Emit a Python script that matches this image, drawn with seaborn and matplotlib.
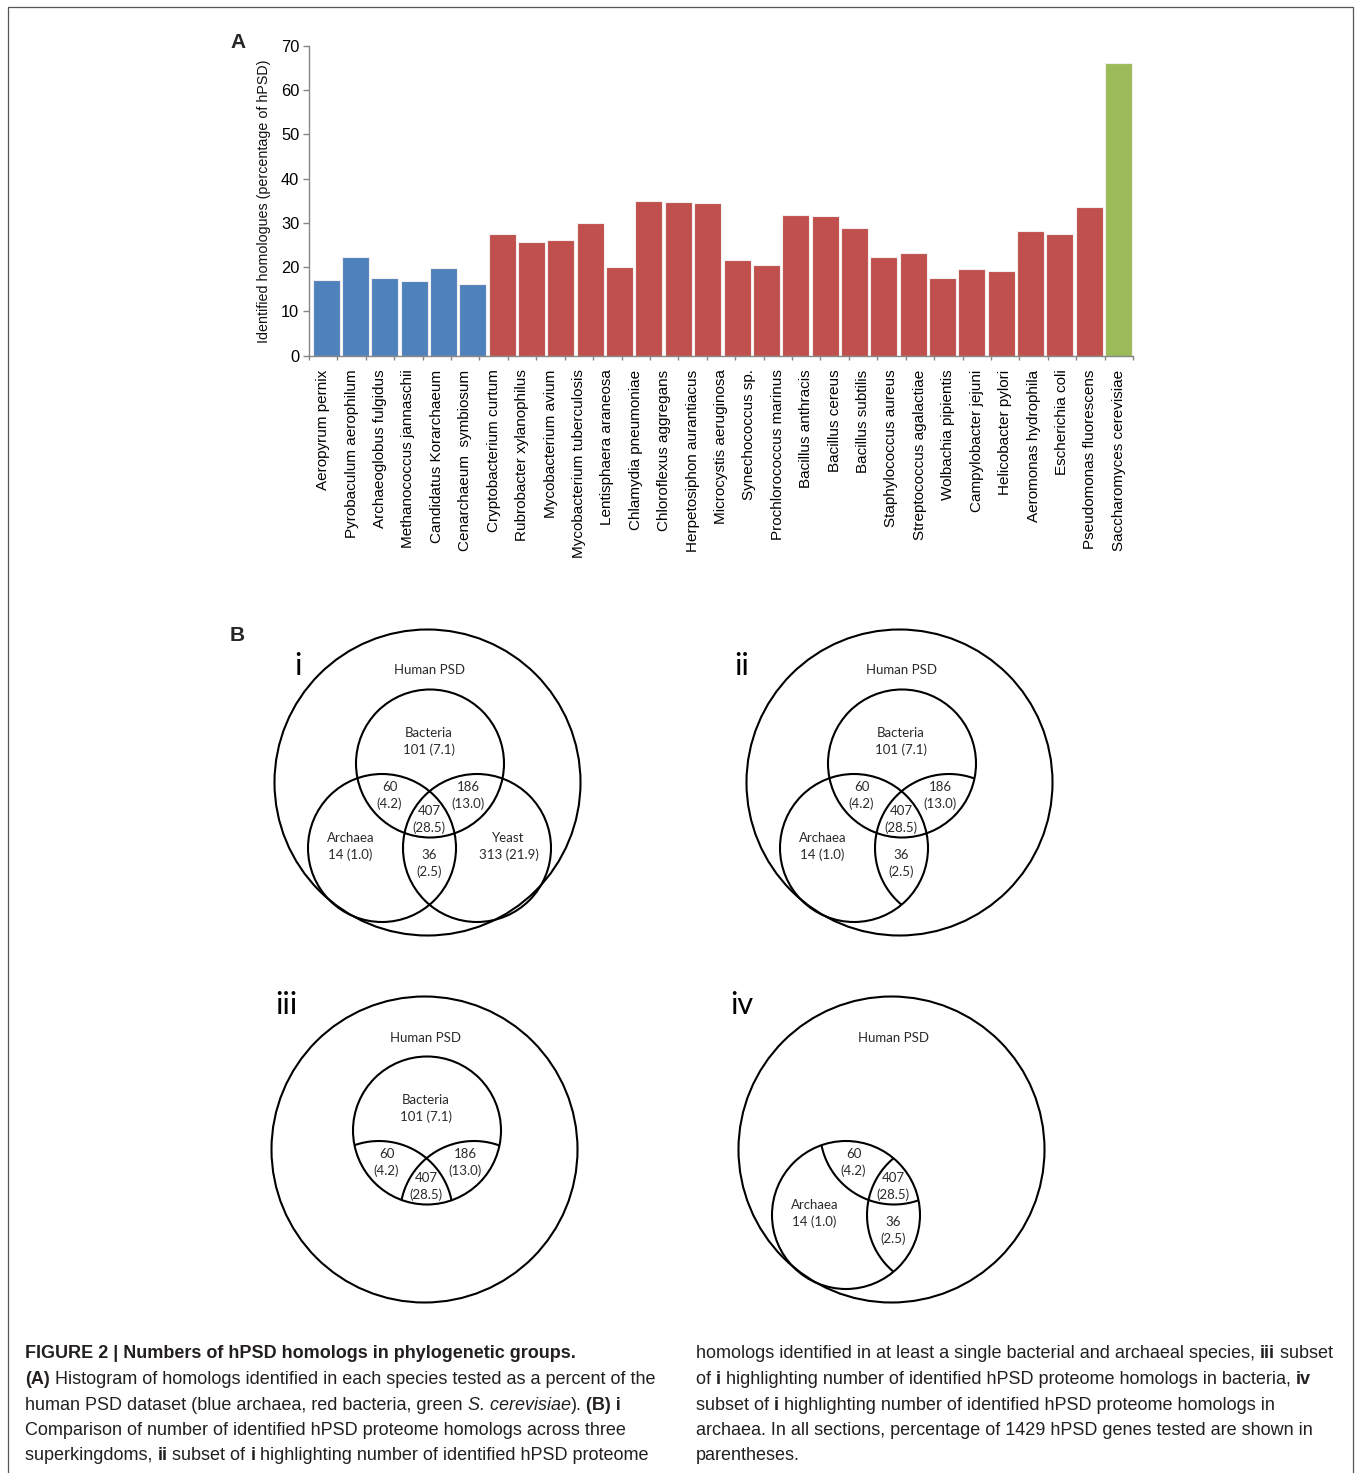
import numpy as np
import pandas as pd
import matplotlib
matplotlib.use("Agg")
import matplotlib.pyplot as plt
import seaborn as sns
from matplotlib import font_manager
from matplotlib.lines import Line2D
from matplotlib.patches import Circle

# ---------------------------------------------------------------- data
species = [
    "Aeropyrum pernix", "Pyrobaculum aerophilum", "Archaeoglobus fulgidus",
    "Methanococcus jannaschii", "Candidatus Korarchaeum", "Cenarchaeum  symbiosum",
    "Cryptobacterium curtum", "Rubrobacter xylanophilus", "Mycobacterium avium",
    "Mycobacterium tuberculosis", "Lentisphaera araneosa", "Chlamydia pneumoniae",
    "Chloroflexus aggregans", "Herpetosiphon aurantiacus", "Microcystis aeruginosa",
    "Synechococcus sp.", "Prochlorococcus marinus", "Bacillus anthracis",
    "Bacillus cereus", "Bacillus subtilis", "Staphylococcus aureus",
    "Streptococcus agalactiae", "Wolbachia pipientis", "Campylobacter jejuni",
    "Helicobacter pylori", "Aeromonas hydrophila", "Escherichia coli",
    "Pseudomonas fluorescens", "Saccharomyces cerevisiae",
]

bar_values = [
    17.1, 22.3, 17.6, 16.8, 19.8, 16.1,
    27.4, 25.8, 26.1, 30.1, 20.0, 35.0, 34.8, 34.5,
    21.6, 20.5, 31.9, 31.6, 28.9, 22.4, 23.1, 17.6, 19.7, 19.2, 28.2, 27.4, 33.7,
    66.1,
]
bar_groups = ["Archaea"] * 6 + ["Bacteria"] * 21 + ["Yeast"]
group_colors = {"Archaea": "#4F81BD", "Bacteria": "#C0504D", "Yeast": "#9BBB59"}
y_ticks = [0, 10, 20, 30, 40, 50, 60, 70]
y_label = "Identified homologues (percentage of hPSD)"

# Venn regions: key -> (name line, count, percent of 1429 hPSD genes)
venn_regions = {
    "B": ("Bacteria", 101, 7.1),
    "A": ("Archaea", 14, 1.0),
    "Y": ("Yeast", 313, 21.9),
    "BA": (None, 60, 4.2),
    "BY": (None, 186, 13.0),
    "AY": (None, 36, 2.5),
    "BAY": (None, 407, 28.5),
}
venn_outer_label = "Human PSD"

caption_left = [
    [("FIGURE 2 | Numbers of hPSD homologs in phylogenetic groups.", "b")],
    [("(A)", "b"), (" Histogram of homologs identified in each species tested as a percent of the", "r")],
    [("human PSD dataset (blue archaea, red bacteria, green ", "r"), ("S. cerevisiae", "i"),
     (").", "r"), (" (B) i", "b")],
    [("Comparison of number of identified hPSD proteome homologs across three", "r")],
    [("superkingdoms, ", "r"), ("ii", "b"), (" subset of ", "r"), ("i", "b"),
     (" highlighting number of identified hPSD proteome", "r")],
]
caption_right = [
    [("homologs identified in at least a single bacterial and archaeal species, ", "r"),
     ("iii", "b"), (" subset", "r")],
    [("of ", "r"), ("i", "b"), (" highlighting number of identified hPSD proteome homologs in bacteria, ", "r"),
     ("iv", "b")],
    [("subset of ", "r"), ("i", "b"), (" highlighting number of identified hPSD proteome homologs in", "r")],
    [("archaea. In all sections, percentage of 1429 hPSD genes tested are shown in", "r")],
    [("parentheses.", "r")],
]

# ---------------------------------------------------------------- style
sns.set_theme(style="white")
plt.rcParams["font.family"] = ["Liberation Sans", "DejaVu Sans"]


def has_font(name):
    try:
        font_manager.findfont(font_manager.FontProperties(family=name),
                              fallback_to_default=False)
        return True
    except Exception:
        return False


cap_family = "Liberation Sans Narrow" if has_font("Liberation Sans Narrow") else "Liberation Sans"
venn_family = "Lato" if has_font("Lato") else "DejaVu Sans"

W, H = 1356, 1473
fig = plt.figure(figsize=(W / 100, H / 100), dpi=100)
fig.patch.set_facecolor("white")
renderer = fig.canvas.get_renderer()


def px_box(left, top, right, bottom):
    return [left / W, 1 - bottom / H, (right - left) / W, (bottom - top) / H]


# frame around the figure area (open at the bottom edge)
fig.add_artist(Line2D([8 / W, 8 / W, 1353 / W, 1353 / W],
                      [-0.01, 1 - 7 / H, 1 - 7 / H, -0.01],
                      transform=fig.transFigure, color="#555555", lw=0.9))

# ---------------------------------------------------------------- panel A
axis_gray = "#868686"
df = pd.DataFrame({"bar": list(range(len(bar_values))), "value": bar_values, "group": bar_groups})

ax = fig.add_axes(px_box(309, 46, 1133, 355.7))
sns.barplot(data=df, x="bar", y="value", hue="group", palette=group_colors,
            order=list(range(len(bar_values))), dodge=False, width=0.92, saturation=1,
            edgecolor="#f4eeee", linewidth=0.8, legend=False, ax=ax)
ax.set_xlim(-0.586, len(bar_values) - 0.506)
ax.set_ylim(0, 70)
ax.set_yticks(y_ticks)
ax.set_yticklabels([str(v) for v in y_ticks], fontsize=11.8, color="black")
ax.set_xticks([])
ax.set_xlabel("")
ax.set_ylabel(y_label, fontsize=10.3, labelpad=7, color="#111111")
for side in ("top", "right"):
    ax.spines[side].set_visible(False)
for side in ("left", "bottom"):
    ax.spines[side].set_color(axis_gray)
    ax.spines[side].set_linewidth(1.0)
ax.tick_params(axis="y", which="major", direction="out", length=4, width=1,
               color=axis_gray, pad=3, left=True)
ax.set_facecolor("none")

# species names on their own category axis along the bottom
lab = ax.twiny()
lab.set_xlim(-0.5, len(species) - 0.5)
lab.xaxis.set_ticks_position("bottom")
lab.xaxis.set_label_position("bottom")
lab.set_xticks(range(len(species)))
lab.set_xticklabels(species, rotation=90, fontsize=11, color="black")
lab.set_xticks(np.arange(-0.5, len(species)), minor=True)
lab.tick_params(axis="x", which="major", length=0, pad=10)
lab.tick_params(axis="x", which="minor", direction="out", length=3, width=1, color=axis_gray)
for s in lab.spines.values():
    s.set_visible(False)

fig.text(230 / W, 1 - 48 / H, "A", fontsize=15, fontweight="bold", ha="left", va="baseline")
fig.text(230 / W, 1 - 641 / H, "B", fontsize=15, fontweight="bold", ha="left", va="baseline")

# ---------------------------------------------------------------- panel B (Venn diagrams)
R_OUT = 153
R_SET = 74
set_centers = {"B": (2.5, 19.0), "A": (-45.5, -65.5), "Y": (49.5, -65.5)}
label_pos = {
    "B": (1.5, 41.0), "A": (-77.0, -64.0), "Y": (81.0, -64.0),
    "BA": (-38.0, -13.0), "BY": (41.0, -13.0), "AY": (1.5, -81.0),
    "BAY": (1.5, -37.0),
}

panels = [
    dict(numeral="i", center=(427.5, 782.5), num_xy=(298, 675),
         full=["B", "A", "Y"], clipped={}, regions=["B", "A", "Y", "BA", "BY", "AY", "BAY"]),
    dict(numeral="ii", center=(899.5, 782.5), num_xy=(742, 675),
         full=["B", "A"], clipped={"Y": ["B", "A"]}, regions=["B", "A", "BA", "BY", "AY", "BAY"]),
    dict(numeral="iii", center=(424.5, 1149.5), num_xy=(286.5, 1013.5),
         full=["B"], clipped={"A": ["B"], "Y": ["B"]}, regions=["B", "BA", "BY", "BAY"]),
    dict(numeral="iv", center=(891.5, 1149.5), num_xy=(742, 1013.5),
         full=["A"], clipped={"B": ["A"], "Y": ["A"]}, regions=["A", "BA", "AY", "BAY"]),
]

LW = 1.5
venn_color = "#2a2a2a"


def draw_set(a, key, inside_of=None):
    c = set_centers[key]
    if not inside_of:
        a.add_patch(Circle(c, R_SET, fill=False, edgecolor="black", lw=LW))
        return
    t = np.linspace(0, 2 * np.pi, 2881)
    x = c[0] + R_SET * np.cos(t)
    y = c[1] + R_SET * np.sin(t)
    keep = np.zeros_like(x, dtype=bool)
    for other in inside_of:
        cx, cy = set_centers[other]
        keep |= (x - cx) ** 2 + (y - cy) ** 2 <= R_SET ** 2
    x = np.where(keep, x, np.nan)
    y = np.where(keep, y, np.nan)
    a.plot(x, y, color="black", lw=LW, solid_capstyle="butt")


for p in panels:
    cx, cy = p["center"]
    half = 170
    va_ = fig.add_axes(px_box(cx - half, cy - half, cx + half, cy + half))
    va_.set_xlim(-half, half)
    va_.set_ylim(-half, half)
    va_.axis("off")
    va_.add_patch(Circle((0, 0), R_OUT, fill=False, edgecolor="black", lw=LW))
    for k in p["full"]:
        draw_set(va_, k)
    for k, within in p["clipped"].items():
        draw_set(va_, k, within)
    va_.text(1.5, 112, venn_outer_label, ha="center", va="center",
             fontsize=9.5, family=venn_family, color=venn_color)
    for reg in p["regions"]:
        name, count, pct = venn_regions[reg]
        if name:
            s = f"{name}\n{count} ({pct:.1f})"
        else:
            s = f"{count}\n({pct:.1f})"
        lx, ly = label_pos[reg]
        va_.text(lx, ly, s, ha="center", va="center", multialignment="center",
                 fontsize=9.5, family=venn_family, color=venn_color, linespacing=1.35)
    fig.text(p["num_xy"][0] / W, 1 - p["num_xy"][1] / H, p["numeral"], ha="center",
             va="baseline", fontsize=22, family=venn_family, color="black")

# ---------------------------------------------------------------- caption
style_kw = {
    "r": dict(family=cap_family, fontweight="normal", fontstyle="normal"),
    "b": dict(family=cap_family, fontweight="bold", fontstyle="normal"),
    "i": dict(family=cap_family, fontweight="normal", fontstyle="italic"),
}


def seg_width(s, size, style):
    t = fig.text(0, 0, "|" + s + "|", fontsize=size, **style_kw[style])
    w1 = t.get_window_extent(renderer).width
    t.set_text("||")
    w0 = t.get_window_extent(renderer).width
    t.remove()
    return w1 - w0


def line_width(segs, size):
    return sum(seg_width(s, size, st) for s, st in segs)


cap_size = 10 * 632 / line_width(caption_left[1], 10)
cap_color = "#231f20"
baselines = [1358.5, 1384, 1409.5, 1435, 1460.5]


def draw_column(lines, x0):
    for segs, yb in zip(lines, baselines):
        x = x0
        for s, st in segs:
            fig.text(x / W, 1 - yb / H, s, fontsize=cap_size, ha="left", va="baseline",
                     color=cap_color, **style_kw[st])
            x += seg_width(s, cap_size, st)


draw_column(caption_left, 25)
draw_column(caption_right, 696)

fig.savefig("out.png", dpi=100)
